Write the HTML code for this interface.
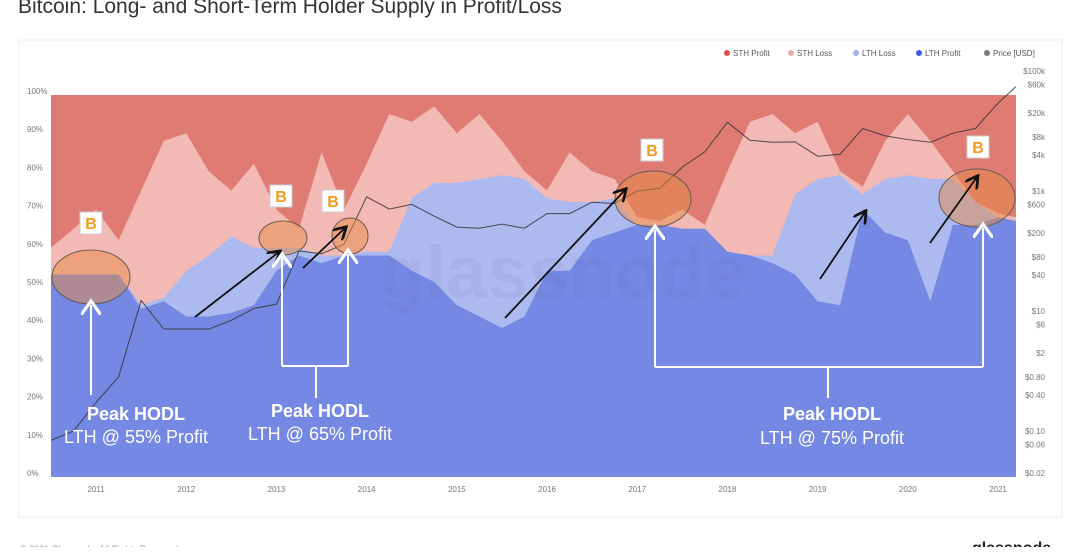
<!DOCTYPE html>
<html><head><meta charset="utf-8">
<style>
body{margin:0;width:1080px;height:547px;overflow:hidden;background:#fff;font-family:"Liberation Sans",sans-serif;}
svg text{font-family:"Liberation Sans",sans-serif;}
</style></head>
<body>
<svg id="chart" width="1080" height="547" viewBox="0 0 1080 547" xmlns="http://www.w3.org/2000/svg">
<text x="18" y="13" font-size="21" fill="#333">Bitcoin: Long- and Short-Term Holder Supply in Profit/Loss</text>
<rect x="19" y="40" width="1043" height="477" fill="#fff" stroke="#ececec"/>
<g id="legend" font-size="8" fill="#555">
<g><circle cx="727" cy="53" r="3" fill="#d9534f"/><text x="733" y="56">STH Profit</text></g>
<g><circle cx="791" cy="53" r="3" fill="#f0aaa6"/><text x="797" y="56">STH Loss</text></g>
<g><circle cx="856" cy="53" r="3" fill="#9fb0f0"/><text x="862" y="56">LTH Loss</text></g>
<g><circle cx="919" cy="53" r="3" fill="#3d5ce0"/><text x="925" y="56">LTH Profit</text></g>
<g><circle cx="987" cy="53" r="3" fill="#777"/><text x="993" y="56">Price [USD]</text></g>
</g>
<g id="areas"></g>
<text x="380" y="298" font-size="74" font-weight="bold" fill="rgba(90,90,130,0.07)">glassnode</text>
<g id="priceg"></g>
<g id="axes" font-size="9" fill="#777"></g>
<g id="annot"></g>
<text x="20" y="552" font-size="9" fill="#999">© 2021 Glassnode. All Rights Reserved.</text>
<text x="972" y="553" font-size="16" font-weight="bold" fill="#222">glassnode</text>
</svg>
<script>
const years = [2010.5,2010.75,2011,2011.25,2011.5,2011.75,2012,2012.25,2012.5,2012.75,2013,2013.25,2013.5,2013.75,2014,2014.25,2014.5,2014.75,2015,2015.25,2015.5,2015.75,2016,2016.25,2016.5,2016.75,2017,2017.25,2017.5,2017.75,2018,2018.25,2018.5,2018.75,2019,2019.25,2019.5,2019.75,2020,2020.25,2020.5,2020.75,2021,2021.2];
const lthProfit = [53,53,53,53,44,46,42,42,43,45,54,58,56,58,58,58,54,51,45,42,39,42,54,54,62,64,66,66,65,65,59,58,56,53,46,45,70,64,62,46,66,66,68,67];
const lthTotal = [53,53,53,53,45,47,54,58,63,60,60,60,58,58,59,59,73,77,77,78,79,78,73,72,72,73,66,66,65,65,59,58,58,74,78,79,74,78,79,78,78,72,68,67];
const sthLossTop = [60,65,70,62,75,88,90,80,75,82,70,65,85,70,82,95,93,97,90,95,88,80,75,85,80,78,68,67,70,66,80,93,95,90,93,80,76,88,95,88,80,72,69,68];
const price = [0.07,0.1,0.3,0.8,15,5,5,5,7,11,13,100,90,130,800,500,600,380,250,240,280,240,420,420,650,620,1000,1100,2500,4500,14000,7000,6500,6600,3800,4100,11000,8300,7200,6500,9200,11000,29000,55000];
const pctTicks = [0,10,20,30,40,50,60,70,80,90,100];
const yearTicks = [2011,2012,2013,2014,2015,2016,2017,2018,2019,2020,2021];
const priceTicks = [[0.02,"$0.02"],[0.06,"$0.06"],[0.1,"$0.10"],[0.4,"$0.40"],[0.8,"$0.80"],[2,"$2"],[6,"$6"],[10,"$10"],[40,"$40"],[80,"$80"],[200,"$200"],[600,"$600"],[1000,"$1k"],[4000,"$4k"],[8000,"$8k"],[20000,"$20k"],[60000,"$60k"],[100000,"$100k"]];

const NS="http://www.w3.org/2000/svg";
const X0=51,X1=1016,Y0=477,Y100=95;
const xs=t=>X0+(t-2010.5)/(2021.2-2010.5)*(X1-X0);
const ys=v=>Y0-(v/100)*(Y0-Y100);
const yp=p=>473-(Math.log10(p)+1.7)*60;
function mk(tag,attrs,parent){const e=document.createElementNS(NS,tag);for(const k in attrs)e.setAttribute(k,attrs[k]);parent.appendChild(e);return e;}
function area(arr){let d=`M${xs(years[0])},${Y0}`;arr.forEach((v,i)=>d+=`L${xs(years[i])},${ys(v)}`);d+=`L${xs(years[years.length-1])},${Y0}Z`;return d;}
const A=document.getElementById('areas');
const r=mk('rect',{x:X0,y:Y100,width:X1-X0,height:Y0-Y100,fill:'#e07b74'},A);


const p1=mk('path',{d:area(sthLossTop),fill:'#f3b9b5'},A);


const p2=mk('path',{d:area(lthTotal),fill:'#adbaf0'},A);


const p3=mk('path',{d:area(lthProfit),fill:'#7588e3'},A);


const P=document.getElementById('priceg');
let pd='';price.forEach((v,i)=>pd+=(i?'L':'M')+xs(years[i])+','+yp(v));
const pl=mk('path',{d:pd,fill:'none',stroke:'#333','stroke-width':1,'stroke-opacity':0.85},P);


const AX=document.getElementById('axes');
pctTicks.forEach(v=>{const t=mk('text',{x:27,y:ys(v)-1,'font-size':8},AX);t.textContent=v+'%';

});
yearTicks.forEach(v=>{const t=mk('text',{x:xs(v),y:492,'text-anchor':'middle','font-size':8},AX);t.textContent=v;

});
priceTicks.forEach(([v,l])=>{const t=mk('text',{x:1045,y:yp(v)+3,'text-anchor':'end','font-size':8},AX);t.textContent=l;

});
const N=document.getElementById('annot');
const ells=[[91,277,39,27],[283,238,24,17],[350,236,18,18],[653,199,38,28],[977,198,38,29]];
ells.forEach(e=>{const el=mk('ellipse',{cx:e[0],cy:e[1],rx:e[2],ry:e[3],fill:'rgba(230,140,70,0.5)',stroke:'#6a5a50','stroke-width':1},N);

});
const bs=[[80,212],[270,185],[322,190],[641,139],[967,136]];
bs.forEach(b=>{const g=mk('g',{},N);


mk('rect',{x:b[0],y:b[1],width:22,height:22,fill:'#fff',stroke:'#ccc'},g);
const t=mk('text',{x:b[0]+11,y:b[1]+17,'text-anchor':'middle','font-size':16,'font-weight':'bold',fill:'#f39a1e'},g);t.textContent='B';});
mk('defs',{},N).innerHTML='<marker id="ah" markerWidth="8" markerHeight="8" refX="6" refY="4" orient="auto"><path d="M0,0L7,4L0,8" fill="none" stroke="#111" stroke-width="1.5"/></marker><marker id="wh" markerWidth="10" markerHeight="10" refX="5" refY="5" orient="auto"><path d="M0,0L7,5L0,10" fill="none" stroke="#fff" stroke-width="1.6"/></marker>';
const arrows=[[195,317,279,252],[303,268,345,228],[505,318,625,190],[820,279,865,212],[930,243,977,177]];
arrows.forEach(a=>{const l=mk('line',{x1:a[0],y1:a[1],x2:a[2],y2:a[3],stroke:'#111','stroke-width':1.8,'marker-end':'url(#ah)'},N);

});
const wl=[[91,395,91,305,1],[282,366,282,258,1],[348,366,348,254,1],[282,366,348,366,0],[316,366,316,398,0],[655,367,655,230,1],[983,367,983,228,1],[655,367,983,367,0],[828,367,828,398,0]];
wl.forEach(a=>{const o={x1:a[0],y1:a[1],x2:a[2],y2:a[3],stroke:'#fff','stroke-width':2};if(a[4])o['marker-end']='url(#wh)';const l=mk('line',o,N);

});
const labels=[[136,420,443,'55%'],[320,417,440,'65%'],[832,420,444,'75%']];
labels.forEach(l=>{const g=mk('g',{fill:'#fff','text-anchor':'middle'},N);


const a=mk('text',{x:l[0],y:l[1],'font-size':18,'font-weight':'bold'},g);a.textContent='Peak HODL';
const b=mk('text',{x:l[0],y:l[2],'font-size':18},g);b.textContent='LTH @ '+l[3]+' Profit';});
</script>
</body></html>
